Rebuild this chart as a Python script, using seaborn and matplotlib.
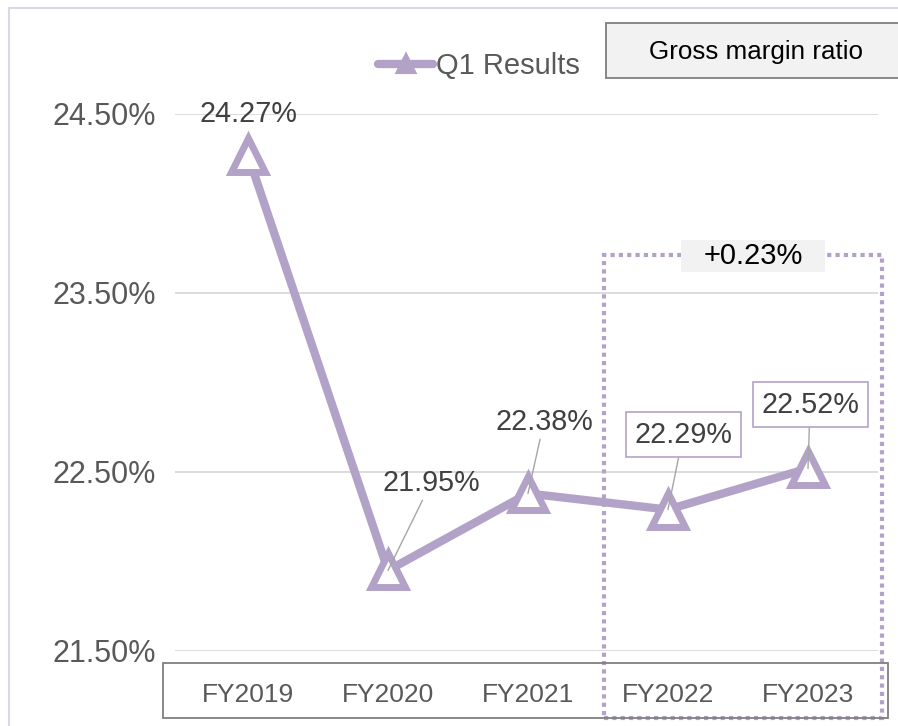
import matplotlib
matplotlib.use("Agg")
import matplotlib.pyplot as plt
from matplotlib.patches import Rectangle
from matplotlib.lines import Line2D
import seaborn as sns
import pandas as pd

# ---- data ----
years = ["FY2019", "FY2020", "FY2021", "FY2022", "FY2023"]
q1_results = [24.27, 21.95, 22.38, 22.29, 22.52]
y_ticks = [21.5, 22.5, 23.5, 24.5]
series_name = "Q1 Results"
title_text = "Gross margin ratio"
change_text = "+0.23%"

sns.set_style("white")
plt.rcParams["font.family"] = ["Liberation Sans", "DejaVu Sans"]

LAV = "#b3a2c7"
GRID = "#d9d9d9"
TXT = "#404040"
TICK = "#595959"

W, H = 898, 726
fig = plt.figure(figsize=(W / 100, H / 100), dpi=100)

def fx(px):
    return px / W

def fy(py):
    return 1 - py / H

ax = fig.add_axes([fx(175), fy(651), fx(878) - fx(175), fy(114) - fy(651)])

df = pd.DataFrame({"year": list(range(len(years))), "value": q1_results})
sns.lineplot(data=df, x="year", y="value", ax=ax, color=LAV, linewidth=6,
             marker="^", markersize=24, markerfacecolor="white",
             markeredgecolor=LAV, markeredgewidth=5, sort=False,
             solid_joinstyle="round", solid_capstyle="round", legend=False)

ax.set_xlim(-0.521, 4.5)
ax.set_ylim(21.5, 24.5)
ax.set_yticks(y_ticks)
ax.set_yticklabels([f"{v:.2f}%" for v in y_ticks], fontsize=22, color=TICK)
ax.set_xticks(range(len(years)))
ax.set_xticklabels(years, fontsize=19, color=TICK)
ax.tick_params(axis="x", length=0, pad=23)
ax.tick_params(axis="y", length=0, pad=14)
ax.set_xlabel("")
ax.set_ylabel("")
for s in ax.spines.values():
    s.set_visible(False)
ax.yaxis.grid(True, color=GRID, linewidth=1.3)
ax.xaxis.grid(False)
ax.set_axisbelow(True)

# ---- data labels ----
offsets = [(0.7, 29.5), (31, 63), (11.5, 51.5), (11, 54), (1.5, 46)]
leader = [False, True, True, True, True]
boxed = [False, False, False, True, True]
for i, (v, off) in enumerate(zip(q1_results, offsets)):
    kw = dict(textcoords="offset points", xytext=off, ha="center", va="center",
              fontsize=20.7, color=TXT, zorder=5)
    if boxed[i]:
        kw["bbox"] = dict(boxstyle="square,pad=0.3", fc="white", ec=LAV, lw=1.2)
    if leader[i]:
        kw["arrowprops"] = dict(arrowstyle="-", color="#a6a6a6", lw=1.0,
                                shrinkA=0, shrinkB=0)
    ax.annotate(f"{v:.2f}%", xy=(i, v), **kw)

# ---- dotted highlight rectangle around last two years ----
y_low = 21.5 - (718 - 651) / 179.0
y_high = 24.5 - (255 - 114) / 179.0
hl = Rectangle((2.54, y_low), 4.53 - 2.54, y_high - y_low, fill=False,
               ec=LAV, lw=3, ls=(0, (1, 1)), capstyle="butt", clip_on=False, zorder=4)
ax.add_patch(hl)
lab_x0, lab_x1 = 3.093, 4.121
lab_y0 = 24.5 - (272 - 114) / 179.0
lab_y1 = 24.5 - (240 - 114) / 179.0
ax.add_patch(Rectangle((lab_x0, lab_y0), lab_x1 - lab_x0, lab_y1 - lab_y0,
                       fc="#f2f2f2", ec="none", clip_on=False, zorder=5))
ax.text((lab_x0 + lab_x1) / 2, (lab_y0 + lab_y1) / 2, change_text, ha="center",
        va="center", fontsize=21, color="black", zorder=6)

# ---- x-axis box ----
fig.patches.append(Rectangle((fx(163), fy(718)), fx(888) - fx(163), fy(663) - fy(718),
                             transform=fig.transFigure, fill=False, ec="#7f7f7f", lw=1.3,
                             zorder=3))

# ---- title box ----
fig.patches.append(Rectangle((fx(606), fy(78)), fx(920) - fx(606), fy(23) - fy(78),
                             transform=fig.transFigure, fc="#f2f2f2", ec="#7f7f7f", lw=1.3,
                             zorder=3))
fig.text(fx(756), fy(52), title_text, ha="center", va="center", fontsize=18.7,
         color="black", zorder=4)

# ---- outer frame ----
fig.patches.append(Rectangle((fx(9), fy(740)), fx(920) - fx(9), fy(8) - fy(740),
                             transform=fig.transFigure, fill=False, ec="#dcd6ea", lw=1.5))

# ---- legend ----
handle = Line2D([], [], color=LAV, lw=6, marker="^", markersize=12,
                markerfacecolor=LAV, markeredgecolor=LAV, markeredgewidth=3,
                solid_capstyle="round")
leg = fig.legend([handle], [series_name], loc="center left",
                 bbox_to_anchor=(fx(378), fy(66)), frameon=False, fontsize=21,
                 handlelength=1.9, handletextpad=0.1, borderpad=0, borderaxespad=0)
for t in leg.get_texts():
    t.set_color(TICK)

fig.savefig("out.png", dpi=100)
